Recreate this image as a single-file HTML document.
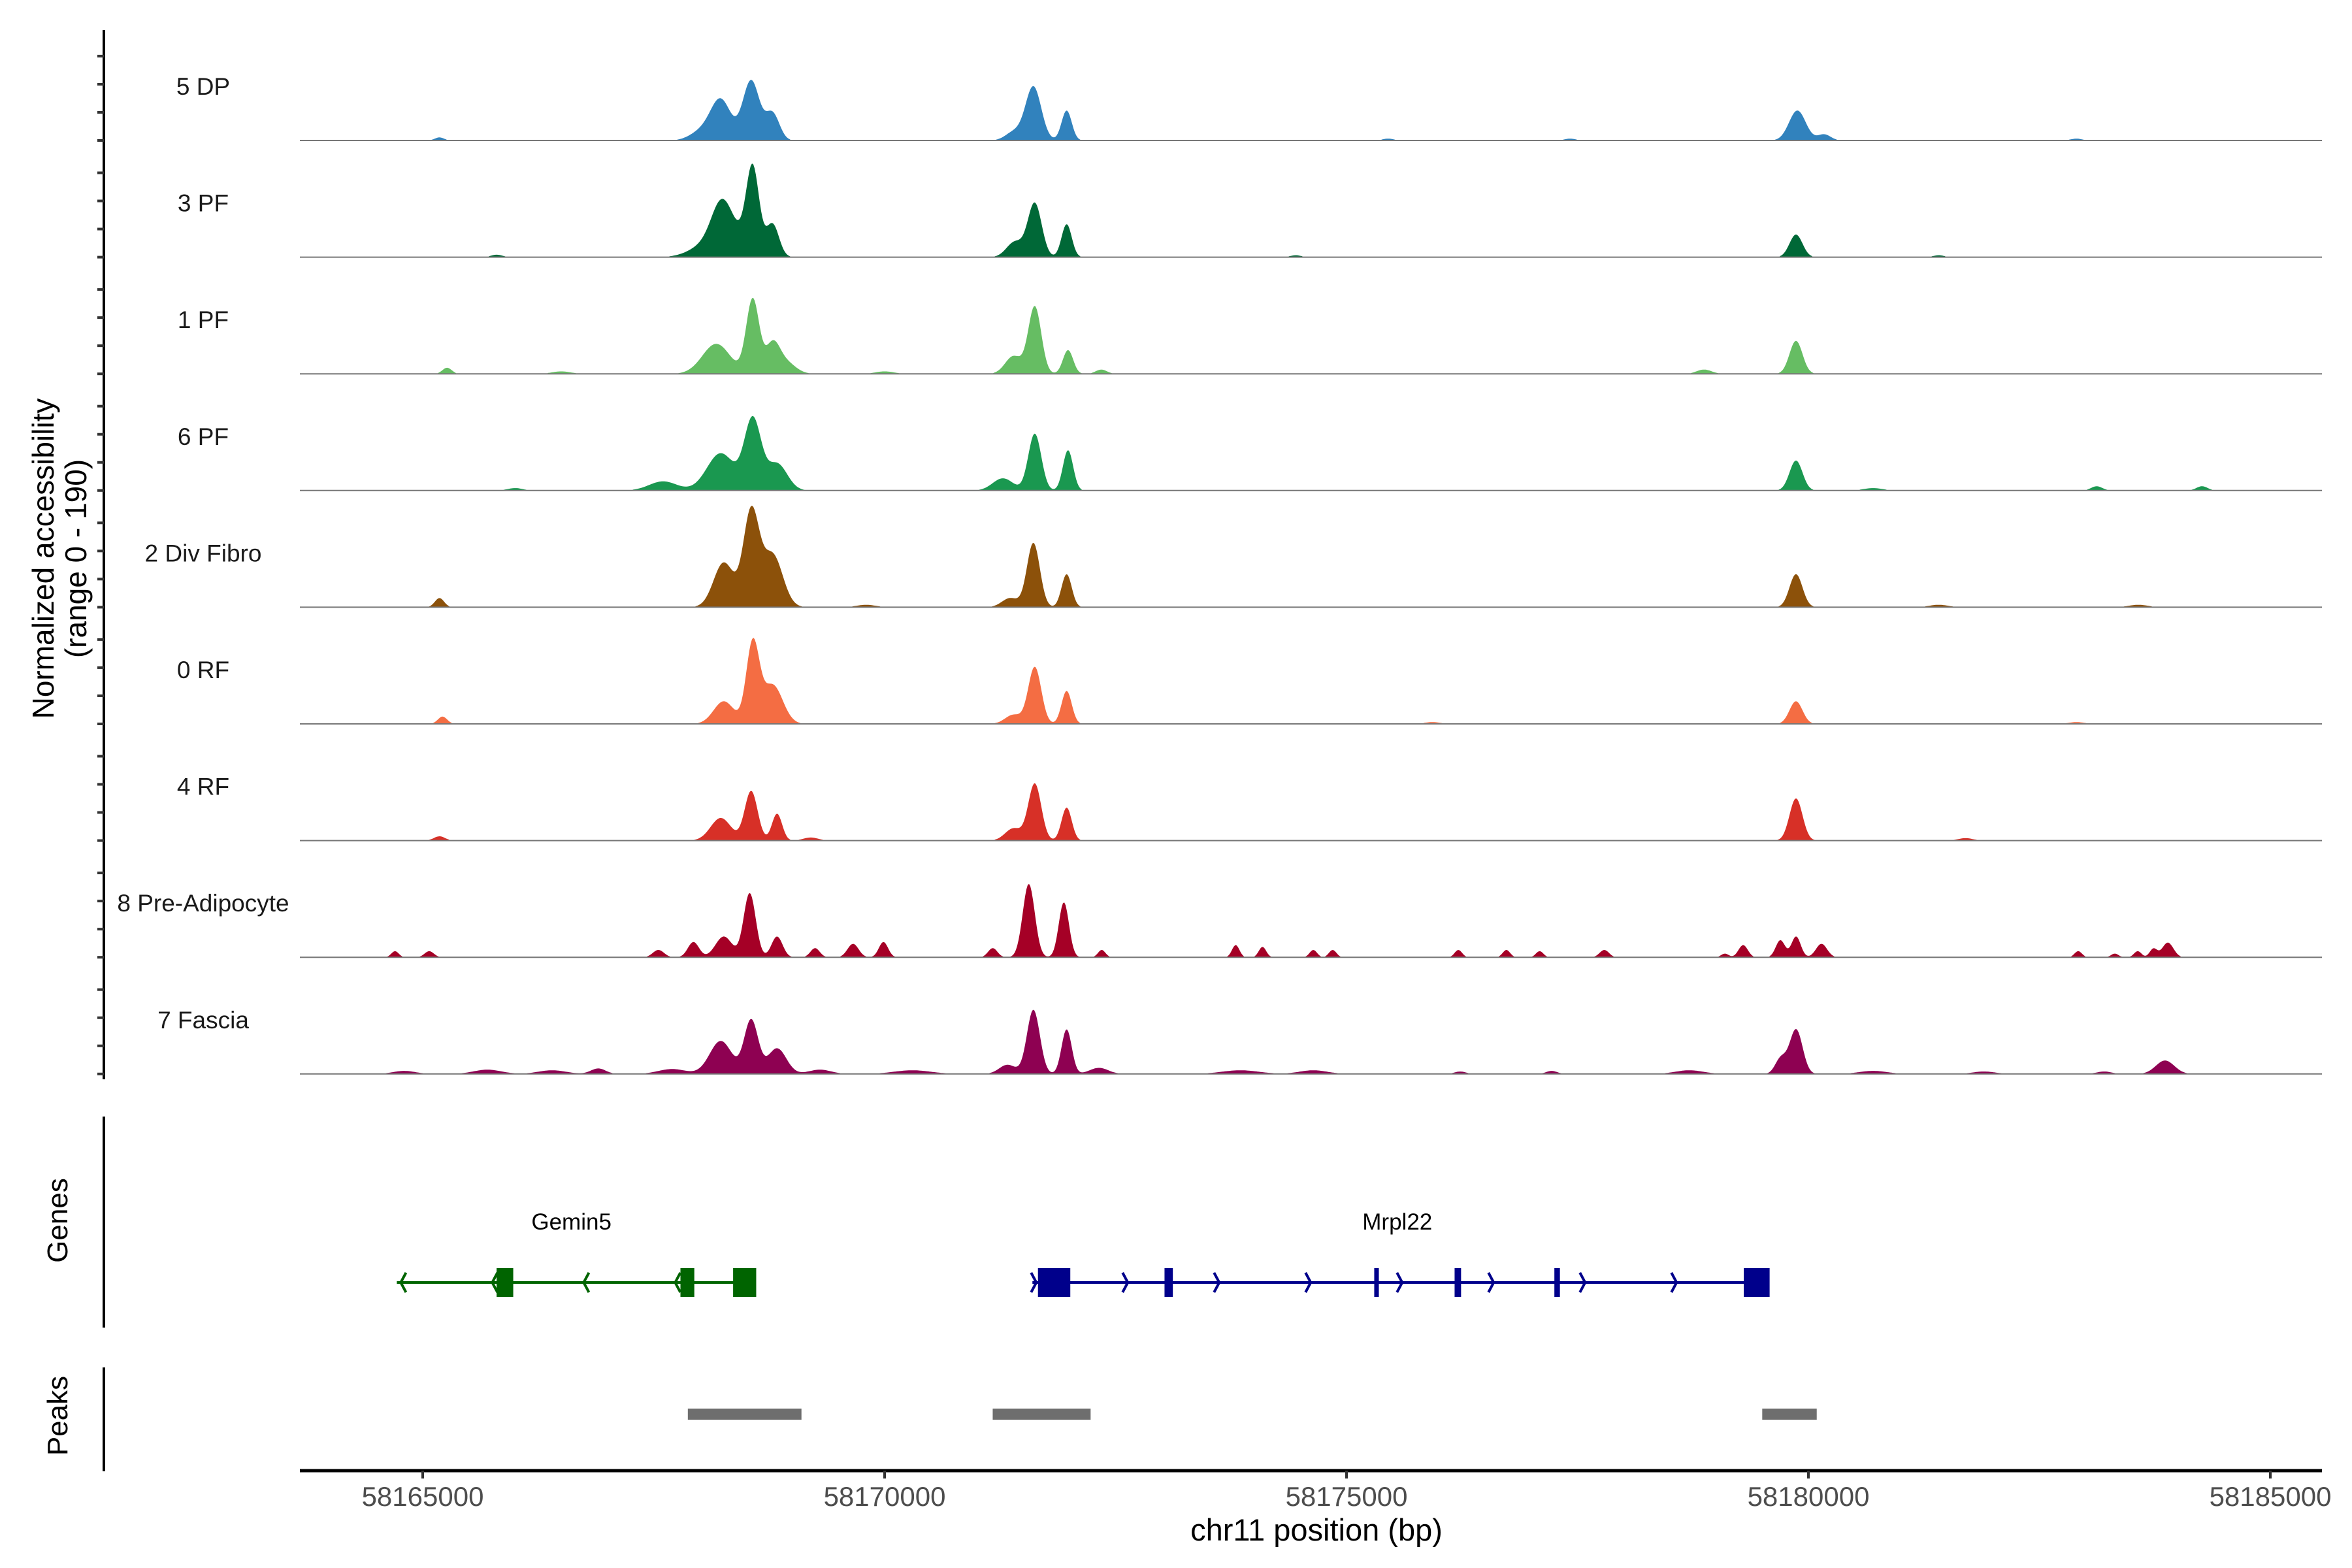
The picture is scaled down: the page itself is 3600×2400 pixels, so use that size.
<!DOCTYPE html>
<html><head><meta charset="utf-8"><style>
html,body{margin:0;padding:0;background:#fff;}
svg{display:block;font-family:"Liberation Sans",sans-serif;}
</style></head><body>
<svg id="chart" width="3600" height="2400" viewBox="0 0 3600 2400" xmlns="http://www.w3.org/2000/svg">
<g id="tracks"></g>
<g id="yaxis"></g>
<text transform="translate(82,855) rotate(-90)" text-anchor="middle" font-size="46">Normalized accessibility</text>
<text transform="translate(132,855) rotate(-90)" text-anchor="middle" font-size="46">(range 0 - 190)</text>
<g id="genes"></g>
<g id="peaks"></g>
<g id="xaxis"></g>
<text x="2015" y="2358" text-anchor="middle" font-size="47">chr11 position (bp)</text>
<text transform="translate(103,1868) rotate(-90)" text-anchor="middle" font-size="44">Genes</text>
<text transform="translate(103,2167) rotate(-90)" text-anchor="middle" font-size="44">Peaks</text>
</svg>
<script>
const trackNames = ["5 DP","3 PF","1 PF","6 PF","2 Div Fibro","0 RF","4 RF","8 Pre-Adipocyte","7 Fascia"];
const trackColors = ["#3182bd","#006837","#66bd63","#1a9850","#8c510a","#f46d43","#d73027","#a50026","#8e0152"];
const yMax = 190;
const xTicks = [58165000,58170000,58175000,58180000,58185000];
// peaks: [position bp, value, width bp]
const peaks5DP = [[58165181,5,50],[58168012,14,120],[58168226,66,110],[58168555,98,90],[58168786,44,75],[58171400,14,90],[58171610,88,85],[58171970,49,55],[58179880,49,90],[58180170,10,70],[58175450,3,60],[58177420,3,60],[58182900,3,60]];
const peaks3PF = [[58168094,22,180],[58168226,54,105],[58168358,37,140],[58168572,140,70],[58168786,54,70],[58171410,25,90],[58171625,88,75],[58171970,54,55],[58179865,37,70],[58165800,4,60],[58174450,3,60],[58181410,3,60]];
const peaks1PF = [[58165263,10,50],[58168177,49,150],[58168572,122,70],[58168786,44,75],[58168918,20,110],[58171395,29,90],[58171625,110,70],[58171985,39,55],[58172345,7,60],[58178870,7,80],[58179865,54,70],[58166500,4,100],[58170000,4,100]];
const peaks6PF = [[58167601,15,150],[58168226,61,150],[58168572,115,90],[58168835,44,110],[58171280,20,110],[58171625,93,70],[58171985,66,55],[58179865,49,70],[58184260,7,60],[58183120,7,60],[58180700,4,100],[58166000,4,80]];
const peaks2Div = [[58165181,15,50],[58168259,73,110],[58168555,154,85],[58168786,86,110],[58171360,15,90],[58171610,105,70],[58171970,54,55],[58179865,54,70],[58169800,4,100],[58181410,4,100],[58183570,4,100]];
const peaks0RF = [[58165214,12,50],[58168259,37,110],[58168572,130,70],[58168786,64,110],[58171395,15,90],[58171625,93,70],[58171970,54,55],[58179865,37,70],[58175930,3,80],[58182900,3,80]];
const peaks4RF = [[58165181,7,60],[58168226,37,110],[58168555,81,70],[58168835,44,55],[58171395,20,90],[58171625,93,70],[58171970,54,55],[58179865,69,70],[58169200,5,80],[58181700,4,80]];
const peaks8PA = [[58164700,10,40],[58165070,10,50],[58167551,12,60],[58167930,25,60],[58168259,34,90],[58168539,105,65],[58168835,34,60],[58169247,15,50],[58169658,22,60],[58169987,25,50],[58171170,15,50],[58171560,120,65],[58171940,90,55],[58172350,12,40],[58173800,20,40],[58174090,17,40],[58174640,12,40],[58174850,12,40],[58176210,12,40],[58176730,12,40],[58177090,10,40],[58177790,12,50],[58179095,6,40],[58179293,20,50],[58179696,28,50],[58179866,34,50],[58180141,22,60],[58182920,10,40],[58183316,6,40],[58183564,10,40],[58183734,14,40],[58183890,24,60]];
const peaks7Fa = [[58164800,5,120],[58165700,7,150],[58166400,6,150],[58166900,9,80],[58167700,8,150],[58168226,54,120],[58168555,88,75],[58168835,42,100],[58169300,7,120],[58170300,6,200],[58171330,15,90],[58171610,105,70],[58171970,73,55],[58172320,10,100],[58173850,6,200],[58174640,6,150],[58176230,4,60],[58177220,5,60],[58178710,6,150],[58179700,25,60],[58179866,73,70],[58180700,5,150],[58181900,4,120],[58183200,4,80],[58183860,22,100]];
const trackPeaks = [peaks5DP,peaks3PF,peaks1PF,peaks6PF,peaks2Div,peaks0RF,peaks4RF,peaks8PA,peaks7Fa];

const geneNames = ["Gemin5","Mrpl22"];
const geneStrand = [-1,1];
const geneStart = [58164720,58171600];
const geneEnd = [58168500,58179500];
const geneExons = [[[58165800,58165980],[58167790,58167940],[58168360,58168610]],[[58171660,58172010],[58173030,58173120],[58175300,58175350],[58176170,58176240],[58177250,58177310],[58179300,58179580]]];
const geneColors = ["#006400","#00008b"];
const peakStart = [58167870,58171170,58179500];
const peakEnd = [58169100,58172230,58180090];

const NS="http://www.w3.org/2000/svg";
const X0=459, X1=3554, bpStart=58163670, pxPerBp=0.1414;
const xScale = bp => 647 + (bp-58165000)*pxPerBp;
const base0=215, trackStep=178.6, trackH=178;
const yScale = (v,i) => base0 + i*trackStep - v/yMax*trackH;
function mk(tag,attrs,parent){const e=document.createElementNS(NS,tag);for(const k in attrs)e.setAttribute(k,attrs[k]);parent.appendChild(e);return e;}

const gT=document.getElementById('tracks');
trackNames.forEach((name,i)=>{
  const g=mk('g',{},gT);
  
  
  const base=base0+i*trackStep;
  let d='M'+X0+','+base;
  for(let x=X0;x<=X1;x+=2){
    const bp=bpStart+(x-X0)/pxPerBp;
    let v=0;
    trackPeaks[i].forEach(p=>{const z=(bp-p[0])/p[2];v+=p[1]*Math.exp(-0.5*z*z);});
    if(v<1.2)v=0;
    d+=' L'+x+','+yScale(Math.min(v,yMax),i).toFixed(1);
  }
  d+=' L'+X1+','+base+' Z';
  const a=mk('path',{d:d,fill:trackColors[i]},g);
  
  
  const l=mk('line',{x1:X0,x2:X1,y1:base,y2:base,stroke:'#777','stroke-width':2},g);
  
  
  const t=mk('text',{x:311,y:base-70,'text-anchor':'middle','font-size':37,fill:'#1a1a1a'},g);
  t.textContent=name;
  
  
});

const gY=document.getElementById('yaxis');
mk('line',{x1:159,x2:159,y1:46,y2:1652,stroke:'#000','stroke-width':4},gY);
for(let i=0;i<9;i++){for(let k=0;k<4;k++){const y=base0+i*trackStep-k*trackStep/4.15;
  const tk=mk('line',{x1:149,x2:159,y1:y,y2:y,stroke:'#333','stroke-width':4},gY);
  }}

const gG=document.getElementById('genes');
mk('line',{x1:159,x2:159,y1:1709,y2:2032,stroke:'#000','stroke-width':4},gG);
const gy=1963;
geneNames.forEach((n,i)=>{
  const g=mk('g',{},gG);
  
  
  const xs=xScale(geneStart[i]), xe=xScale(geneEnd[i]);
  mk('line',{x1:xs,x2:xe,y1:gy,y2:gy,stroke:geneColors[i],'stroke-width':4},g);
  for(let x=xs+6;x<xe;x+=140){
    const s=geneStrand[i];
    mk('polyline',{points:(x-8*s)+','+(gy-15)+' '+x+','+gy+' '+(x-8*s)+','+(gy+15),fill:'none',stroke:geneColors[i],'stroke-width':4},g);
  }
  geneExons[i].forEach(e=>{
    const r=mk('rect',{x:xScale(e[0]),y:gy-22,width:xScale(e[1])-xScale(e[0]),height:44,fill:geneColors[i]},g);
    
  });
  const t=mk('text',{x:(xs+xe)/2,y:1882,'text-anchor':'middle','font-size':35,fill:'#000'},g);
  t.textContent=n;
  
});

const gP=document.getElementById('peaks');
mk('line',{x1:159,x2:159,y1:2093,y2:2252,stroke:'#000','stroke-width':4},gP);
peakStart.forEach((s,i)=>{
  const r=mk('rect',{x:xScale(s),y:2156,width:xScale(peakEnd[i])-xScale(s),height:17,fill:'#6e6e6e'},gP);
  
});

const gX=document.getElementById('xaxis');
mk('line',{x1:X0,x2:3554,y1:2251,y2:2251,stroke:'#000','stroke-width':5},gX);
xTicks.forEach(v=>{
  const x=xScale(v);
  mk('line',{x1:x,x2:x,y1:2251,y2:2263,stroke:'#333','stroke-width':4},gX);
  const t=mk('text',{x:x,y:2305,'text-anchor':'middle','font-size':42,fill:'#4d4d4d'},gX);
  t.textContent=v;
  
});
</script>
</body></html>
